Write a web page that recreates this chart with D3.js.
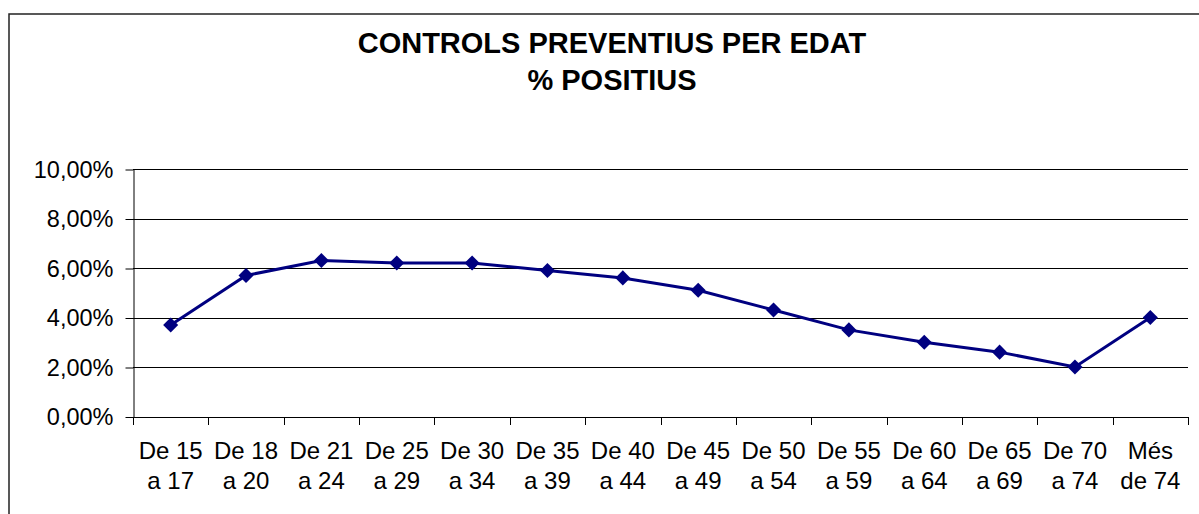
<!DOCTYPE html>
<html>
<head>
<meta charset="utf-8">
<script src="https://cdn.jsdelivr.net/npm/d3@7"></script>
<style>
  body { margin: 0; background: #fff; }
  svg { display: block; font-family: "Liberation Sans", Arial, sans-serif; }
</style>
</head>
<body>
<script>
// DATA
const categories = [
  ["De 15", "a 17"], ["De 18", "a 20"], ["De 21", "a 24"], ["De 25", "a 29"],
  ["De 30", "a 34"], ["De 35", "a 39"], ["De 40", "a 44"], ["De 45", "a 49"],
  ["De 50", "a 54"], ["De 55", "a 59"], ["De 60", "a 64"], ["De 65", "a 69"],
  ["De 70", "a 74"], ["Més", "de 74"]
];
const positius = [3.7, 5.7, 6.3, 6.2, 6.2, 5.9, 5.6, 5.1, 4.3, 3.5, 3.0, 2.6, 2.0, 4.0];
const yTicks = [0, 2, 4, 6, 8, 10];
const titleLines = ["CONTROLS PREVENTIUS PER EDAT", "% POSITIUS"];

// MAKE THE CHART
const W = 1199, H = 514;
const padL = 133, padR = 1188, padT = 169, padB = 416.5;

const svg = d3.select("body").append("svg")
  .attr("width", W)
  .attr("height", H);

// outer frame of the chart
svg.append("rect")
  .attr("x", 9).attr("y", 14)
  .attr("width", 1200).attr("height", 520)
  .attr("fill", "none")
  .attr("stroke", "#222")
  .attr("stroke-width", 1.5);

svg.append("g")
  .selectAll("text")
  .data(titleLines)
  .enter()
  .append("text")
  .attr("x", 612)
  .attr("y", (d, i) => 53 + i * 37)
  .attr("text-anchor", "middle")
  .style("font-weight", "bold")
  .style("font-size", "29px")
  .text(d => d);

const xScale = d3.scaleBand()
  .domain(d3.range(categories.length))
  .range([padL, padR])
  .paddingInner(0)
  .paddingOuter(0);

const yScale = d3.scaleLinear()
  .domain([0, 10])
  .range([padB, padT]);

// gridlines
svg.append("g")
  .selectAll("line")
  .data(yTicks.filter(d => d > 0))
  .enter()
  .append("line")
  .attr("x1", padL).attr("x2", padR)
  .attr("y1", d => Math.round(yScale(d)) + 0.5)
  .attr("y2", d => Math.round(yScale(d)) + 0.5)
  .attr("stroke", "#000")
  .attr("stroke-width", 1);

// y axis
const yAxis = d3.axisLeft(yScale)
  .tickValues(yTicks)
  .tickSize(8)
  .tickSizeOuter(0)
  .tickPadding(12)
  .tickFormat(d => d3.format(".2f")(d).replace(".", ",") + "%");

const gy = svg.append("g")
  .attr("transform", `translate(${padL + 0.5},0.5)`)
  .call(yAxis);
gy.selectAll("text").style("font-size", "23.5px").attr("fill", "#000");
gy.selectAll("line, path").attr("stroke", "#000");

// x axis: ticks at band boundaries
const gx = svg.append("g");
const bounds = d3.range(categories.length + 1).map(i => padL + i * xScale.bandwidth());
gx.append("line")
  .attr("x1", padL).attr("x2", padR)
  .attr("y1", Math.round(padB) + 0.5).attr("y2", Math.round(padB) + 0.5)
  .attr("stroke", "#000");
gx.selectAll(".tick")
  .data(bounds)
  .enter()
  .append("line")
  .attr("x1", d => Math.round(d) + 0.5).attr("x2", d => Math.round(d) + 0.5)
  .attr("y1", Math.round(padB)).attr("y2", Math.round(padB) + 8)
  .attr("stroke", "#000");

const labels = gx.selectAll(".lab")
  .data(categories)
  .enter()
  .append("text")
  .attr("text-anchor", "middle")
  .style("font-size", "24px")
  .attr("transform", (d, i) => `translate(${xScale(i) + xScale.bandwidth() / 2},0)`);
labels.selectAll("tspan")
  .data(d => d)
  .enter()
  .append("tspan")
  .attr("x", 0)
  .attr("y", (d, i) => 459 + i * 30)
  .text(d => d);

// line + markers
const line = d3.line()
  .x((d, i) => xScale(i) + xScale.bandwidth() / 2)
  .y(d => yScale(d));

svg.append("path")
  .datum(positius)
  .attr("d", line)
  .attr("fill", "none")
  .attr("stroke", "#000080")
  .attr("stroke-width", 3);

svg.append("g")
  .selectAll("path")
  .data(positius)
  .enter()
  .append("path")
  .attr("d", d3.symbol(d3.symbolDiamond2, 145))
  .attr("transform", (d, i) => `translate(${xScale(i) + xScale.bandwidth() / 2},${yScale(d)})`)
  .attr("fill", "#000080");
</script>
</body>
</html>
